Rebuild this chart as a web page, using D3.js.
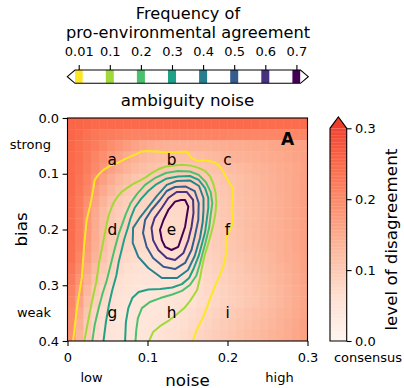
<!DOCTYPE html>
<html><head><meta charset="utf-8">
<script src="https://cdn.jsdelivr.net/npm/d3@7"></script>
<style>
body{margin:0;background:#fff;}
svg{display:block;}
text{font-family:"DejaVu Sans",sans-serif;fill:#000;}
</style>
</head><body>
<svg id="c" width="404" height="388"></svg>
<script>
// ---------------- data ----------------
const levels = [0.01, 0.1, 0.2, 0.3, 0.4, 0.5, 0.6, 0.7];
const levelLabels = ["0.01", "0.1", "0.2", "0.3", "0.4", "0.5", "0.6", "0.7"];
const noiseTicks = [0, 0.1, 0.2, 0.3];
const noiseTickLabels = ["0", "0.1", "0.2", "0.3"];
const biasTicks = [0, 0.1, 0.2, 0.3, 0.4];
const biasTickLabels = ["0.0", "0.1", "0.2", "0.3", "0.4"];
const cbarTicks = [0, 0.1, 0.2, 0.3];
const cbarTickLabels = ["0.0", "0.1", "0.2", "0.3"];
const letterNames = [["a", "b", "c"], ["d", "e", "f"], ["g", "h", "i"]];
const letterNoise = [0.056, 0.13, 0.2];
const letterBias = [0.075, 0.2, 0.35];
const noiseStep = 0.01, biasStep = 0.02;

// level of disagreement (x 0.001); rows: bias 0..0.4 step 0.02, cols: noise 0..0.3 step 0.01
const disagreement = [
[255,255,252,250,250,250,250,250,250,250,250,250,250,250,250,250,250,250,250,250,248,248,248,248,246,246,246,245,245,245],
[255,248,238,230,224,220,216,213,211,210,210,210,210,210,210,210,210,210,210,210,208,208,208,207,207,206,206,205,205,205],
[252,244,232,220,208,196,184,172,162,154,148,144,141,140,140,140,141,142,143,145,146,148,150,151,153,155,157,159,161,164],
[250,240,225,208,192,176,162,150,140,132,126,122,120,119,119,120,122,125,128,132,135,138,141,144,147,150,153,156,160,164],
[250,238,220,200,182,165,150,137,127,119,113,109,106,105,105,106,108,111,115,119,123,127,131,135,139,143,147,151,156,162],
[250,234,212,188,166,146,130,118,109,102,98,95,93,92,92,93,96,100,105,110,115,120,125,130,135,140,145,150,156,164],
[248,230,204,176,152,132,116,105,97,92,88,86,85,85,85,87,91,96,101,107,112,118,123,128,134,139,145,150,156,164],
[246,224,192,162,136,116,102,93,87,83,80,79,78,78,79,82,87,92,98,104,110,116,122,127,133,138,144,150,156,164],
[245,220,184,152,126,106,94,86,81,78,76,75,75,75,77,81,86,91,97,103,109,115,121,127,133,138,144,150,156,164],
[245,218,182,150,124,104,92,85,80,77,75,74,74,75,77,81,86,91,97,103,109,115,121,127,132,138,144,150,156,164],
[245,218,180,148,122,102,90,83,78,75,73,72,72,73,76,80,85,90,96,102,108,114,120,126,132,138,144,150,156,164],
[244,215,176,144,118,98,86,79,74,71,69,68,68,70,73,77,82,88,94,100,106,112,118,124,130,136,142,148,155,163],
[240,208,168,136,110,91,80,73,68,65,63,63,64,66,69,73,79,85,91,97,103,109,115,121,127,133,140,146,153,162],
[232,198,156,124,100,83,72,65,60,57,56,56,58,60,64,69,75,81,87,93,99,105,111,117,123,130,137,144,151,161],
[222,186,142,110,88,74,64,58,54,51,50,51,53,56,60,65,71,77,83,89,95,101,107,113,120,127,134,141,149,160],
[212,174,128,98,78,66,57,52,48,46,46,47,50,53,57,62,68,74,80,86,92,98,104,110,117,124,131,139,147,158],
[204,162,116,88,70,59,52,47,45,44,44,46,49,52,56,61,67,73,79,85,91,97,103,109,116,123,130,138,146,157],
[198,150,106,80,64,54,48,45,44,44,45,47,51,56,62,68,74,80,86,92,98,104,110,116,122,128,135,142,150,160],
[194,140,98,72,58,50,46,44,44,45,47,51,56,61,66,72,78,84,90,96,102,108,114,120,126,132,139,146,154,163],
[190,132,92,68,56,48,45,44,45,47,50,55,60,65,70,76,82,88,94,100,106,112,118,124,130,136,142,148,155,165]
];

// contour lines of frequency of pro-environmental agreement, [noise, bias]
const contour001 = [[0.007,0.400],[0.0115,0.344],[0.018,0.285],[0.021,0.225],[0.024,0.183],[0.028,0.159],[0.032,0.129],[0.034,0.111],[0.0385,0.102],[0.045,0.093],[0.053,0.086],[0.0635,0.080],[0.074,0.072],[0.084,0.066],[0.093,0.060],[0.100,0.059],[0.1115,0.060],[0.124,0.0615],[0.1365,0.061],[0.148,0.060],[0.151,0.063],[0.155,0.072],[0.1615,0.0766],[0.174,0.0766],[0.184,0.0795],[0.1905,0.0874],[0.195,0.0963],[0.199,0.108],[0.203,0.117],[0.2065,0.126],[0.207,0.138],[0.206,0.153],[0.205,0.165],[0.207,0.177],[0.206,0.189],[0.203,0.201],[0.199,0.213],[0.198,0.225],[0.198,0.243],[0.196,0.261],[0.1905,0.282],[0.184,0.303],[0.179,0.3205],[0.174,0.341],[0.168,0.362],[0.1615,0.380],[0.1565,0.400]];
const contour01 = [[0.021,0.400],[0.026,0.362],[0.031,0.3265],[0.036,0.294],[0.039,0.264],[0.0425,0.237],[0.046,0.212],[0.049,0.190],[0.052,0.172],[0.057,0.154],[0.062,0.142],[0.068,0.132],[0.076,0.124],[0.083,0.1175],[0.091,0.112],[0.098,0.106],[0.106,0.098],[0.114,0.0915],[0.123,0.087],[0.133,0.085],[0.143,0.084],[0.153,0.085],[0.163,0.089],[0.172,0.095],[0.178,0.104],[0.182,0.117],[0.185,0.133],[0.186,0.151],[0.185,0.170],[0.1825,0.190],[0.179,0.210],[0.175,0.2296],[0.171,0.249],[0.168,0.269],[0.1656,0.287],[0.162,0.3085],[0.154,0.3265],[0.146,0.341],[0.136,0.353],[0.126,0.364],[0.116,0.373],[0.107,0.384],[0.102,0.400]];
const contour02 = [[0.031,0.400],[0.034,0.371],[0.039,0.341],[0.044,0.314],[0.049,0.292],[0.053,0.269],[0.057,0.2457],[0.061,0.224],[0.064,0.208],[0.068,0.192],[0.073,0.172],[0.079,0.1525],[0.087,0.136],[0.097,0.120],[0.109,0.108],[0.123,0.0987],[0.138,0.095],[0.153,0.096],[0.164,0.102],[0.173,0.115],[0.179,0.133],[0.181,0.1525],[0.179,0.174],[0.177,0.197],[0.173,0.2206],[0.169,0.242],[0.165,0.264],[0.161,0.283],[0.153,0.2996],[0.143,0.310],[0.131,0.3166],[0.116,0.323],[0.103,0.330],[0.093,0.341],[0.088,0.359],[0.086,0.380],[0.085,0.400]];
const contour03 = [[0.045,0.400],[0.048,0.366],[0.052,0.3336],[0.056,0.3085],[0.061,0.283],[0.064,0.258],[0.068,0.235],[0.071,0.217],[0.075,0.199],[0.079,0.179],[0.084,0.161],[0.092,0.145],[0.101,0.131],[0.111,0.119],[0.123,0.109],[0.138,0.105],[0.153,0.104],[0.164,0.111],[0.172,0.1256],[0.176,0.1435],[0.176,0.1614],[0.174,0.183],[0.172,0.2045],[0.168,0.226],[0.164,0.2475],[0.158,0.269],[0.152,0.287],[0.143,0.298],[0.131,0.304],[0.116,0.3067],[0.101,0.3076],[0.089,0.312],[0.081,0.323],[0.076,0.341],[0.073,0.366],[0.072,0.400]];
const contour04 = [[0.082,0.197],[0.091,0.1776],[0.101,0.1596],[0.1115,0.140],[0.124,0.120],[0.1365,0.113],[0.153,0.112],[0.1644,0.122],[0.170,0.1435],[0.170,0.165],[0.169,0.1865],[0.1656,0.2152],[0.159,0.2475],[0.1506,0.2726],[0.137,0.287],[0.118,0.287],[0.101,0.269],[0.0885,0.249],[0.0815,0.2242]];
const contour05 = [[0.0944,0.2063],[0.097,0.183],[0.105,0.165],[0.1156,0.1471],[0.124,0.1309],[0.1344,0.1238],[0.148,0.123],[0.159,0.131],[0.164,0.1525],[0.1635,0.183],[0.159,0.2135],[0.155,0.2368],[0.147,0.260],[0.1344,0.2709],[0.120,0.267],[0.107,0.251],[0.099,0.2314]];
const contour06 = [[0.105,0.197],[0.109,0.179],[0.118,0.161],[0.126,0.1435],[0.1365,0.1327],[0.149,0.1327],[0.157,0.147],[0.1575,0.170],[0.155,0.1955],[0.151,0.219],[0.145,0.242],[0.1344,0.2547],[0.124,0.251],[0.1135,0.2368],[0.107,0.219]];
const contour07 = [[0.1156,0.2009],[0.120,0.183],[0.126,0.165],[0.1344,0.150],[0.142,0.147],[0.147,0.147],[0.151,0.159],[0.149,0.177],[0.147,0.195],[0.1428,0.213],[0.1385,0.231],[0.130,0.2368],[0.122,0.231],[0.118,0.219]];
const contourLines = [contour001, contour01, contour02, contour03, contour04, contour05, contour06, contour07];
const contourClosed = [false, false, false, false, true, true, true, true];

// ---------------- drawing ----------------
const svg = d3.select("#c");
const x = d3.scaleLinear().domain([0, 0.3]).range([67.5, 307.5]);
const y = d3.scaleLinear().domain([0, 0.4]).range([118, 341]);

const redsStops = ["#fff5f0","#fee0d2","#fcbba1","#fc9272","#fb6a4a","#ef3b2c","#cb181d","#a50f15","#67000d"];
const reds = d3.scaleLinear().domain(redsStops.map((_, i) => i / (redsStops.length - 1))).range(redsStops).clamp(true);
const heatColor = v => reds(v / 0.5);
const levelColor = k => d3.interpolateViridis(1 - k / (levels.length - 1));

svg.append("defs").append("clipPath").attr("id", "plotclip")
  .append("rect").attr("x", x(0)).attr("y", y(0)).attr("width", x(0.3) - x(0)).attr("height", y(0.4) - y(0));

// heatmap
const cells = [];
disagreement.forEach((row, j) => row.forEach((v, i) => cells.push({i, j, v: v / 1000})));
svg.append("g").attr("clip-path", "url(#plotclip)")
  .selectAll("rect").data(cells).join("rect")
  .attr("x", d => x(d.i * noiseStep))
  .attr("y", d => y(d.j * biasStep))
  .attr("width", d => x((d.i + 1) * noiseStep) - x(d.i * noiseStep) + 0.4)
  .attr("height", d => y((d.j + 1) * biasStep) - y(d.j * biasStep) + 0.4)
  .attr("fill", d => heatColor(d.v));

// contours
const lineOpen = d3.line().x(d => x(d[0])).y(d => y(d[1]));
const lineClosed = d3.line().x(d => x(d[0])).y(d => y(d[1])).curve(d3.curveLinearClosed);
const cg = svg.append("g").attr("clip-path", "url(#plotclip)");
contourLines.forEach((pts, k) => {
  cg.append("path")
    .attr("d", contourClosed[k] ? lineClosed(pts) : lineOpen(pts))
    .attr("fill", "none")
    .attr("stroke", levelColor(k))
    .attr("stroke-width", 2)
    .attr("stroke-linejoin", "round");
});

// letters
letterNames.forEach((row, r) => row.forEach((name, c) => {
  svg.append("text").attr("x", x(letterNoise[c])).attr("y", y(letterBias[r]) + 5)
    .attr("text-anchor", "middle").attr("font-size", "15.3px").text(name);
}));
svg.append("text").attr("x", 287.7).attr("y", 144.5).attr("text-anchor", "middle")
  .attr("font-size", "17px").attr("font-weight", "bold").text("A");

// frame
svg.append("rect").attr("x", x(0)).attr("y", y(0)).attr("width", x(0.3) - x(0)).attr("height", y(0.4) - y(0))
  .attr("fill", "none").attr("stroke", "#000").attr("stroke-width", 1.1);

// axes
const xAxis = d3.axisBottom(x).tickValues(noiseTicks).tickFormat((d, i) => noiseTickLabels[i])
  .tickSize(4.9).tickPadding(7).tickSizeOuter(0);
const gx = svg.append("g").attr("transform", `translate(0,${y(0.4)})`).call(xAxis);
const yAxis = d3.axisLeft(y).tickValues(biasTicks).tickFormat((d, i) => biasTickLabels[i])
  .tickSize(4.9).tickPadding(3.5).tickSizeOuter(0);
const gy = svg.append("g").attr("transform", `translate(${x(0)},0)`).call(yAxis);
[gx, gy].forEach(g => {
  g.select(".domain").remove();
  g.selectAll("line").attr("stroke", "#000").attr("stroke-width", 1.1);
  g.selectAll("text").attr("font-size", "13px").attr("font-family", "DejaVu Sans").attr("fill", "#000");
});

// axis labels & annotations
svg.append("text").attr("x", (x(0) + x(0.3)) / 2).attr("y", 385.5).attr("text-anchor", "middle")
  .attr("font-size", "16.7px").text("noise");
svg.append("text").attr("transform", `translate(27,${(y(0) + y(0.4)) / 2}) rotate(-90)`)
  .attr("text-anchor", "middle").attr("font-size", "16.7px").text("bias");
svg.append("text").attr("x", x(0.03)).attr("y", 382).attr("text-anchor", "middle").attr("font-size", "13px").text("low");
svg.append("text").attr("x", x(0.265)).attr("y", 382).attr("text-anchor", "middle").attr("font-size", "13px").text("high");
svg.append("text").attr("x", 51).attr("y", y(0.05) + 3.5).attr("text-anchor", "end").attr("font-size", "13px").text("strong");
svg.append("text").attr("x", 51).attr("y", y(0.35) + 4).attr("text-anchor", "end").attr("font-size", "13px").text("weak");

// right colorbar
const cb = d3.scaleLinear().domain([0, 0.3]).range([341, 128.3]);
const cbX0 = 330, cbX1 = 346.7;
const cbSteps = d3.range(0, 0.3, 0.002);
svg.append("g").selectAll("rect").data(cbSteps).join("rect")
  .attr("x", cbX0).attr("width", cbX1 - cbX0)
  .attr("y", d => cb(d + 0.002)).attr("height", d => cb(d) - cb(d + 0.002) + 0.3)
  .attr("fill", d => heatColor(d + 0.001));
const tipY = 117;
svg.append("path").attr("d", `M${cbX0},${cb(0.3)} L${(cbX0 + cbX1) / 2},${tipY} L${cbX1},${cb(0.3)} Z`)
  .attr("fill", heatColor(0.31));
svg.append("path").attr("d", `M${cbX0},${cb(0)} L${cbX0},${cb(0.3)} L${(cbX0 + cbX1) / 2},${tipY} L${cbX1},${cb(0.3)} L${cbX1},${cb(0)} Z`)
  .attr("fill", "none").attr("stroke", "#000").attr("stroke-width", 1.1);
const cbAxis = d3.axisRight(cb).tickValues(cbarTicks).tickFormat((d, i) => cbarTickLabels[i])
  .tickSize(4.9).tickPadding(3.5).tickSizeOuter(0);
const gcb = svg.append("g").attr("transform", `translate(${cbX1},0)`).call(cbAxis);
gcb.select(".domain").remove();
gcb.selectAll("line").attr("stroke", "#000").attr("stroke-width", 1.1);
gcb.selectAll("text").attr("font-size", "13px").attr("font-family", "DejaVu Sans").attr("fill", "#000");
svg.append("text").attr("transform", `translate(397,${(cb(0) + cb(0.3)) / 2 + 5}) rotate(-90)`)
  .attr("text-anchor", "middle").attr("font-size", "16.7px").text("level of disagreement");
svg.append("text").attr("x", 368).attr("y", 362).attr("text-anchor", "middle").attr("font-size", "13px").text("consensus");

// top legend (contour levels)
const lg = d3.scaleLinear().domain([0, levels.length - 1]).range([78.7, 296.4]);
const boxX0 = 75, boxX1 = 300.5, boxY0 = 70, boxY1 = 83.3;
svg.append("defs").append("clipPath").attr("id", "legclip")
  .append("rect").attr("x", boxX0).attr("y", boxY0).attr("width", boxX1 - boxX0).attr("height", boxY1 - boxY0);
svg.append("g").attr("clip-path", "url(#legclip)").selectAll("rect").data(levels).join("rect")
  .attr("x", (d, k) => lg(k) - 4).attr("width", 8)
  .attr("y", boxY0).attr("height", boxY1 - boxY0)
  .attr("fill", (d, k) => levelColor(k));
const midY = (boxY0 + boxY1) / 2;
svg.append("path").attr("d", `M${boxX0},${boxY0} L${boxX1},${boxY0} L308.3,${midY} L${boxX1},${boxY1} L${boxX0},${boxY1} L67.3,${midY} Z`)
  .attr("fill", "none").attr("stroke", "#000").attr("stroke-width", 1.1);
const lgAxis = d3.axisTop(lg).tickValues(d3.range(levels.length)).tickFormat(k => levelLabels[k])
  .tickSize(4.9).tickPadding(9).tickSizeOuter(0);
const glg = svg.append("g").attr("transform", `translate(0,${boxY0})`).call(lgAxis);
glg.select(".domain").remove();
glg.selectAll("line").attr("stroke", "#000").attr("stroke-width", 1.1);
glg.selectAll("text").attr("font-size", "13px").attr("font-family", "DejaVu Sans").attr("fill", "#000");
svg.append("text").attr("x", 188).attr("y", 18.6).attr("text-anchor", "middle").attr("font-size", "16.2px").text("Frequency of");
svg.append("text").attr("x", 188).attr("y", 37.6).attr("text-anchor", "middle").attr("font-size", "16.2px").text("pro-environmental agreement");
svg.append("text").attr("x", 187.5).attr("y", 106).attr("text-anchor", "middle").attr("font-size", "16.7px").text("ambiguity noise");
</script>
</body></html>
